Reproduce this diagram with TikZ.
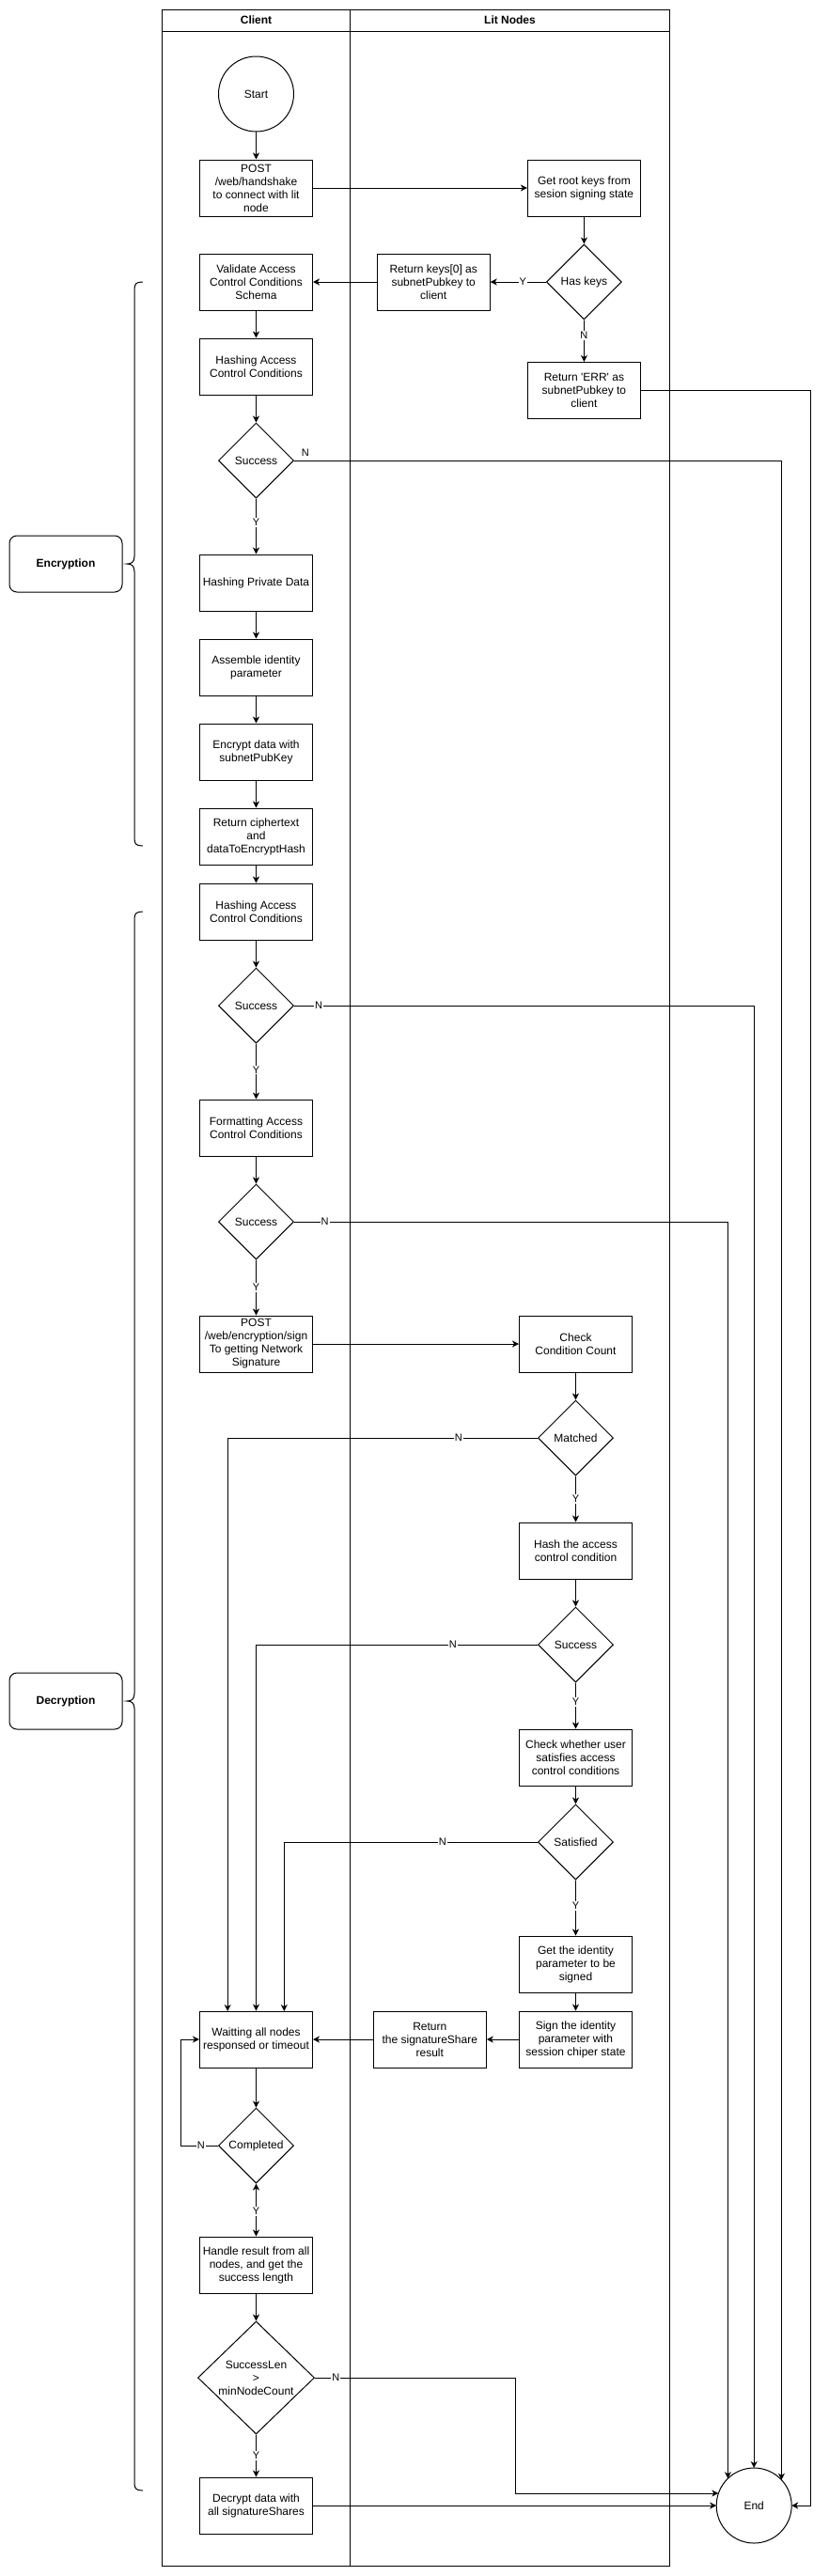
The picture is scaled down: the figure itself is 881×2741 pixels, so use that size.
\documentclass[tikz,border=0pt]{standalone}
\usepackage{fontspec}
\setmainfont{Liberation Sans}
\usetikzlibrary{shapes.geometric,arrows.meta}
\begin{document}
\begin{tikzpicture}[x=1pt,y=-1pt,line width=1pt,
  txt/.style={font=\fontsize{12}{14}\selectfont},
  box/.style={draw,fill=white,rectangle,minimum width=120pt,minimum height=60pt,inner sep=1pt,align=center,txt},
  dec/.style={draw,fill=white,diamond,aspect=1,minimum width=80pt,minimum height=80pt,inner sep=0pt,align=center,txt},
  term/.style={draw,fill=white,circle,minimum size=80pt,inner sep=0pt,outer sep=0pt,txt},
  phase/.style={draw,fill=white,rectangle,rounded corners=8pt,minimum width=120pt,minimum height=60pt,font=\bfseries\fontsize{12}{14}\selectfont},
  head/.style={font=\bfseries\fontsize{12}{14}\selectfont},
  lbl/.style={fill=white,inner sep=1pt,font=\fontsize{11}{13}\selectfont},
  lblp/.style={inner sep=1pt,font=\fontsize{11}{13}\selectfont},
  arr/.style={-{Stealth[length=7pt,width=7pt,inset=2pt]}},
  arrboth/.style={{Stealth[length=7pt,width=7pt,inset=2pt]}-{Stealth[length=7pt,width=7pt,inset=2pt]}}]
\useasboundingbox (0,0) rectangle (881,2741);
% pool
\draw (172.5,10) rectangle (712.5,2730);
\draw (172.5,33) -- (712.5,33);
\draw (372.5,10) -- (372.5,2730);
\node[head] (hClient) at (272.5,21.5) {Client};
\node[head] (hLit) at (542.5,21.5) {Lit Nodes};
% braces
\draw (151.8,300) .. controls (145,300) and (143,302) .. (143,308) -- (143,592) .. controls (143,598) and (140,600) .. (135,600) .. controls (140,600) and (143,602) .. (143,608) -- (143,892) .. controls (143,898) and (145,900) .. (151.8,900);
\draw (151.8,970) .. controls (145,970) and (143,972) .. (143,978) -- (143,1802) .. controls (143,1808) and (140,1810) .. (135,1810) .. controls (140,1810) and (143,1812) .. (143,1818) -- (143,2642) .. controls (143,2648) and (145,2650) .. (151.8,2650);
\node[phase] (encl) at (70,600) {Encryption};
\node[phase] (decl) at (70,1810) {Decryption};
% nodes
\node[term] (start) at (272.5,100) {Start};
\node[box] (post1) at (272.5,200) {POST\\/web/handshake\\to connect with lit\\node};
\node[box] (root) at (621.4,200) {Get root keys from\\sesion signing state};
\node[dec] (haskeys) at (621.4,300) {Has keys};
\node[box] (retkeys) at (461.2,300) {Return keys[0] as\\subnetPubkey to\\client};
\node[box] (validate) at (272.5,300) {Validate Access\\Control Conditions\\Schema};
\node[box] (hash1) at (272.5,390) {Hashing Access\\Control Conditions};
\node[box] (err) at (621.4,415.5) {Return \textquotesingle ERR\textquotesingle{} as\\subnetPubkey to\\client};
\node[dec] (succ1) at (272.5,490) {Success};
\node[box] (hpriv) at (272.5,620) {Hashing Private Data};
\node[box] (assemble) at (272.5,710) {Assemble identity\\parameter};
\node[box] (encrypt) at (272.5,800) {Encrypt data with\\subnetPubKey};
\node[box] (retcipher) at (272.5,890) {Return ciphertext\\and\\dataToEncryptHash};
\node[box] (hash2) at (272.5,970) {Hashing Access\\Control Conditions};
\node[dec] (succ2) at (272.5,1070) {Success};
\node[box] (format) at (272.5,1200) {Formatting Access\\Control Conditions};
\node[dec] (succ3) at (272.5,1300) {Success};
\node[box] (post2) at (272.5,1430) {POST\\/web/encryption/sign\\To getting Network\\Signature};
\node[box] (check) at (612.5,1430) {Check\\Condition Count};
\node[dec] (matched) at (612.5,1530) {Matched};
\node[box] (hashacc) at (612.5,1650) {Hash the access\\control condition};
\node[dec] (succ4) at (612.5,1750) {Success};
\node[box] (checkuser) at (612.5,1870) {Check whether user\\satisfies access\\control conditions};
\node[dec] (satisfied) at (612.5,1960) {Satisfied};
\node[box] (getid) at (612.5,2090) {Get the identity\\parameter to be\\signed};
\node[box] (sign) at (612.5,2170) {Sign the identity\\parameter with\\session chiper state};
\node[box] (retshare) at (457.3,2170) {Return\\the signatureShare\\result};
\node[box] (wait) at (272.5,2170) {Waitting all nodes\\responsed or timeout};
\node[dec] (completed) at (272.5,2283) {Completed};
\node[box] (handle) at (272.5,2410) {Handle result from all\\nodes, and get the\\success length};
\node[dec,minimum width=124pt,minimum height=120pt] (succlen) at (272.5,2530) {SuccessLen\\>\\minNodeCount};
\node[box] (decrypt) at (272.5,2666) {Decrypt data with\\all signatureShares};
\node[term] (End) at (802.2,2666) {End};
% coordinates
\coordinate (cErr) at (862.3,415.5);
\coordinate (cSL) at (548.4,2530);
\coordinate (w1) at (242.2,2140);
\coordinate (w3) at (302.3,2140);
\coordinate (cLoop) at (192.8,2283);
% connectors
\draw[arr] (start) -- (post1);
\draw[arr] (post1) -- (root);
\draw[arr] (root) -- (haskeys);
\draw[arr] (haskeys) -- (retkeys);
\draw[arr] (retkeys) -- (validate);
\draw[arr] (haskeys) -- (err);
\draw[arr] (validate) -- (hash1);
\draw[arr] (hash1) -- (succ1);
\draw[arr] (succ1) -- (hpriv);
\draw[arr] (hpriv) -- (assemble);
\draw[arr] (assemble) -- (encrypt);
\draw[arr] (encrypt) -- (retcipher);
\draw[arr] (retcipher) -- (hash2);
\draw[arr] (hash2) -- (succ2);
\draw[arr] (succ2) -- (format);
\draw[arr] (format) -- (succ3);
\draw[arr] (succ3) -- (post2);
\draw[arr] (post2) -- (check);
\draw[arr] (check) -- (matched);
\draw[arr] (matched) -- (hashacc);
\draw[arr] (hashacc) -- (succ4);
\draw[arr] (succ4) -- (checkuser);
\draw[arr] (checkuser) -- (satisfied);
\draw[arr] (satisfied) -- (getid);
\draw[arr] (getid) -- (sign);
\draw[arr] (sign) -- (retshare);
\draw[arr] (retshare) -- (wait);
\draw[arr] (wait) -- (completed);
\draw[arrboth] (completed) -- (handle);
\draw[arr] (handle) -- (succlen);
\draw[arr] (succlen) -- (decrypt);
\draw[arr] (decrypt) -- (End);
\draw[arr] (err.east) -- (cErr) |- (End.east);
\draw[arr] (succ1.east) -| (End.43.5);
\draw[arr] (succ2.east) -| (End.north);
\draw[arr] (succ3.east) -| (End.134.4);
\draw[arr] (succlen.east) -- (cSL) |- (End.161);
\draw[arr] (matched.west) -| (w1);
\draw[arr] (succ4.west) -| (wait.north);
\draw[arr] (satisfied.west) -| (w3);
\draw[arr] (completed.west) -- (cLoop) |- (wait.west);
% labels
\node[lbl] (lY1) at (556.3,300) {Y};
\node[lbl] (lN1) at (621.4,357) {N};
\node[lblp] (lN2) at (324.8,482) {N};
\node[lbl] (lY2) at (272.5,556) {Y};
\node[lbl] (lN3) at (339,1070) {N};
\node[lbl] (lY3) at (272.5,1138.7) {Y};
\node[lbl] (lN4) at (345.6,1300) {N};
\node[lbl] (lY4) at (272.5,1369.7) {Y};
\node[lbl] (lN5) at (487.8,1530) {N};
\node[lbl] (lY5) at (612.5,1595) {Y};
\node[lbl] (lN6) at (481.9,1750) {N};
\node[lbl] (lY6) at (612.5,1810.7) {Y};
\node[lbl] (lN7) at (470.9,1960) {N};
\node[lbl] (lY7) at (612.5,2028) {Y};
\node[lbl] (lN8) at (213.8,2283) {N};
\node[lbl] (lY8) at (272.5,2353) {Y};
\node[lbl] (lN9) at (357.3,2530) {N};
\node[lbl] (lY9) at (272.5,2612.7) {Y};
\end{tikzpicture}
\end{document}
